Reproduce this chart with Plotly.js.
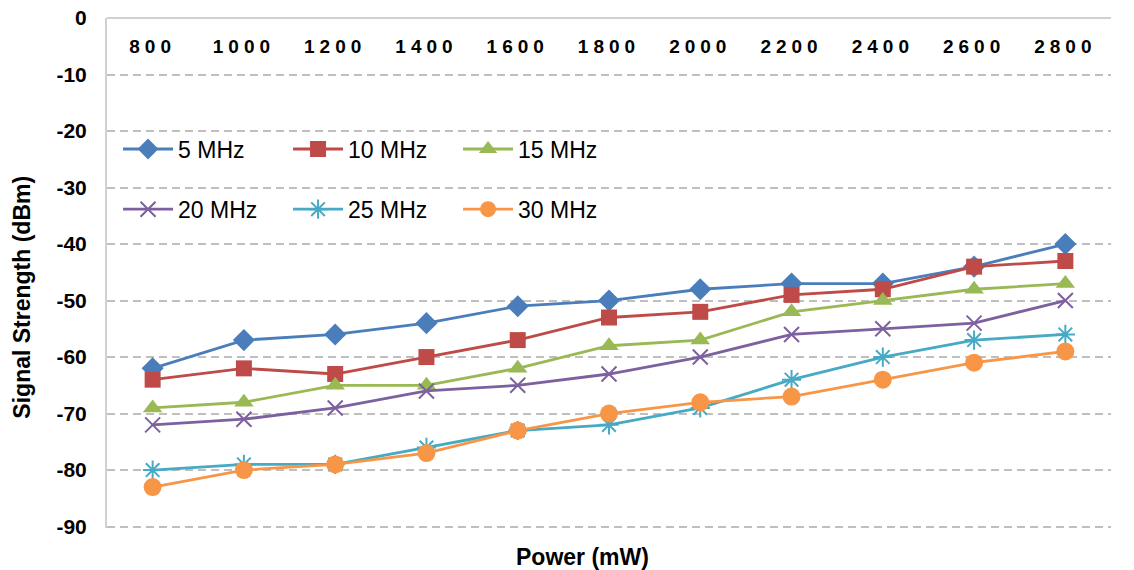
<!DOCTYPE html>
<html>
<head>
<meta charset="utf-8">
<script src="https://cdn.plot.ly/plotly-3.0.1.min.js"></script>
<style>
  html, body { margin: 0; padding: 0; background: #fff; }
  #chart { width: 1134px; height: 570px; }
  .xtick text { letter-spacing: 5px; }
</style>
</head>
<body>
<div id="chart"></div>
<script>
// Transmit power settings (mW), shown as categories along the top axis
const powers = ['800', '1000', '1200', '1400', '1600', '1800', '2000', '2200', '2400', '2600', '2800'];

// Received signal strength (dBm) per channel bandwidth
const mhz5  = [-62, -57, -56, -54, -51, -50, -48, -47, -47, -44, -40];
const mhz10 = [-64, -62, -63, -60, -57, -53, -52, -49, -48, -44, -43];
const mhz15 = [-69, -68, -65, -65, -62, -58, -57, -52, -50, -48, -47];
const mhz20 = [-72, -71, -69, -66, -65, -63, -60, -56, -55, -54, -50];
const mhz25 = [-80, -79, -79, -76, -73, -72, -69, -64, -60, -57, -56];
const mhz30 = [-83, -80, -79, -77, -73, -70, -68, -67, -64, -61, -59];

const seriesNames = ['5 MHz', '10 MHz', '15 MHz', '20 MHz', '25 MHz', '30 MHz'];
const yTickVals = [0, -10, -20, -30, -40, -50, -60, -70, -80, -90];

const styles = [
  { color: '#4A7EBB', symbol: 'diamond',       size: 17, legend: 'legend'  },
  { color: '#BE4B48', symbol: 'square',        size: 16, legend: 'legend'  },
  { color: '#98B954', symbol: 'triangle-up',   size: 17, legend: 'legend'  },
  { color: '#7D60A0', symbol: 'x-thin-open',   size: 15, legend: 'legend2' },
  { color: '#46AAC5', symbol: 'asterisk-open', size: 16, legend: 'legend2' },
  { color: '#F79646', symbol: 'circle',        size: 18, legend: 'legend2' }
];

const values = [mhz5, mhz10, mhz15, mhz20, mhz25, mhz30];

const traces = values.map((ys, i) => {
  const s = styles[i];
  const lineOnly = s.symbol.indexOf('open') !== -1;
  return {
    type: 'scatter',
    mode: 'lines+markers',
    name: seriesNames[i],
    x: powers,
    y: ys,
    legend: s.legend,
    line: { color: s.color, width: 2.8 },
    marker: {
      symbol: s.symbol,
      size: s.size,
      color: s.color,
      line: { color: s.color, width: lineOnly ? 2 : 0 }
    }
  };
});

const FONT = 'Arial, Liberation Sans, sans-serif';

const legendBase = {
  orientation: 'h',
  xanchor: 'left',
  yanchor: 'middle',
  x: 0.011,
  bgcolor: 'rgba(0,0,0,0)',
  font: { family: FONT, size: 23, color: '#000' },
  itemwidth: 50,
  entrywidth: 105,
  entrywidthmode: 'pixels',
  itemclick: false
};

const layout = {
  width: 1134,
  height: 570,
  margin: { l: 107, r: 23, t: 18, b: 42 },
  paper_bgcolor: '#fff',
  plot_bgcolor: '#fff',
  font: { family: FONT, color: '#000' },
  xaxis: {
    type: 'category',
    range: [-0.5, 10.5],
    // value axis crosses at 0, so the category axis sits along the top edge
    anchor: 'free',
    position: 1,
    side: 'bottom',
    ticklabelstandoff: 11,
    showline: true,
    linecolor: '#D0D0D0',
    linewidth: 2,
    showgrid: false,
    ticks: '',
    tickfont: { size: 19, family: FONT, weight: 'bold', color: '#000' },
    fixedrange: true
  },
  yaxis: {
    range: [-90.25, 0],
    tickvals: yTickVals,
    ticktext: yTickVals.map(String),
    showline: true,
    linecolor: '#D0D0D0',
    linewidth: 2,
    showgrid: true,
    gridcolor: '#BFBFBF',
    gridwidth: 2,
    griddash: '8px,5px',
    zeroline: false,
    ticks: '',
    ticklabelstandoff: 14,
    tickfont: { size: 21, family: FONT, weight: 'bold', color: '#000' },
    fixedrange: true
  },
  legend: Object.assign({}, legendBase, { y: 0.743 }),
  legend2: Object.assign({}, legendBase, { y: 0.625 }),
  annotations: [
    {
      text: 'Power (mW)',
      xref: 'paper', yref: 'paper',
      x: 0.474, y: -0.057,
      xanchor: 'center', yanchor: 'middle',
      showarrow: false,
      font: { size: 23, weight: 'bold', color: '#000' }
    },
    {
      text: 'Signal Strength (dBm)',
      xref: 'paper', yref: 'paper',
      x: -0.085, y: 0.453,
      xanchor: 'center', yanchor: 'middle',
      textangle: -90,
      showarrow: false,
      font: { size: 23, weight: 'bold', color: '#000' }
    }
  ],
  showlegend: true
};

Plotly.newPlot('chart', traces, layout, { displayModeBar: false, staticPlot: true });
</script>
</body>
</html>
